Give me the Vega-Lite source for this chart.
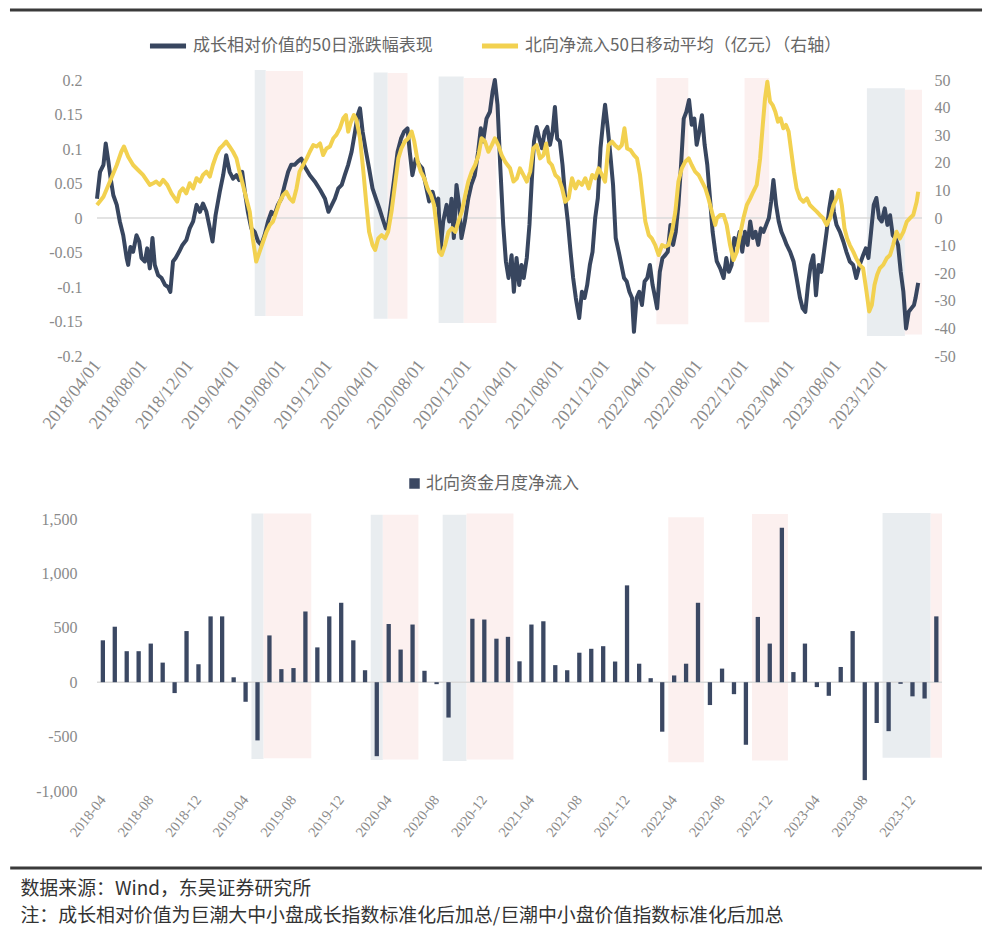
{
  "$schema": "https://vega.github.io/schema/vega-lite/v6.json",
  "background": "#ffffff",
  "padding": {"left": 8, "top": 8, "right": 20, "bottom": 5},
  "spacing": 42,
  "resolve": {"scale": {"color": "independent"}, "legend": {"color": "independent"}},
  "config": {
    "view": {"stroke": null},
    "axis": {"grid": false, "domain": false, "ticks": false, "labelFont": "Liberation Serif", "labelColor": "#8a8a8a", "labelFontSize": 16, "title": null, "labelOverlap": false},
    "legend": {"labelFont": "Noto Sans CJK SC", "labelColor": "#666666", "labelFontSize": 17, "labelLimit": 500}
  },
  "title": {
    "text": ["数据来源：Wind，东吴证券研究所", "注：成长相对价值为巨潮大中小盘成长指数标准化后加总/巨潮中小盘价值指数标准化后加总"],
    "orient": "bottom", "anchor": "start", "font": "Noto Sans CJK SC", "fontSize": 18.9, "fontWeight": "normal", "color": "#333333", "lineHeight": 27, "offset": 10, "dx": 12
  },
  "datasets": {
    "bandsTop": [
      {"start": "2019/05/21", "end": "2019/06/19", "top": 0.2145, "bottom": -0.142, "kind": "grey"},
      {"start": "2019/06/19", "end": "2019/09/25", "top": 0.213, "bottom": -0.142, "kind": "pink"},
      {"start": "2020/03/29", "end": "2020/05/05", "top": 0.211, "bottom": -0.146, "kind": "grey"},
      {"start": "2020/05/05", "end": "2020/06/26", "top": 0.21, "bottom": -0.146, "kind": "pink"},
      {"start": "2020/09/16", "end": "2020/11/21", "top": 0.205, "bottom": -0.152, "kind": "grey"},
      {"start": "2020/11/21", "end": "2021/02/15", "top": 0.203, "bottom": -0.152, "kind": "pink"},
      {"start": "2022/04/12", "end": "2022/07/05", "top": 0.203, "bottom": -0.154, "kind": "pink"},
      {"start": "2022/11/30", "end": "2023/02/03", "top": 0.203, "bottom": -0.151, "kind": "pink"},
      {"start": "2023/10/18", "end": "2024/01/26", "top": 0.188, "bottom": -0.171, "kind": "grey"},
      {"start": "2024/01/26", "end": "2024/03/11", "top": 0.186, "bottom": -0.169, "kind": "pink"}
    ],
    "bandsBottom": [
      {"start": "2019/05/01", "end": "2019/06/01", "top": 1550, "bottom": -705, "kind": "grey"},
      {"start": "2019/06/01", "end": "2019/10/01", "top": 1550, "bottom": -700, "kind": "pink"},
      {"start": "2020/03/01", "end": "2020/04/01", "top": 1540, "bottom": -715, "kind": "grey"},
      {"start": "2020/04/01", "end": "2020/07/01", "top": 1540, "bottom": -710, "kind": "pink"},
      {"start": "2020/09/01", "end": "2020/11/01", "top": 1540, "bottom": -725, "kind": "grey"},
      {"start": "2020/11/01", "end": "2021/03/01", "top": 1550, "bottom": -710, "kind": "pink"},
      {"start": "2022/04/01", "end": "2022/07/01", "top": 1515, "bottom": -735, "kind": "pink"},
      {"start": "2022/11/01", "end": "2023/02/01", "top": 1545, "bottom": -720, "kind": "pink"},
      {"start": "2023/10/01", "end": "2024/02/01", "top": 1555, "bottom": -695, "kind": "grey"},
      {"start": "2024/02/01", "end": "2024/03/01", "top": 1550, "bottom": -695, "kind": "pink"}
    ],
    "growth": [
      {"date": "2018/04/01", "value": 0.028}, {"date": "2018/04/09", "value": 0.067}, {"date": "2018/04/18", "value": 0.077}, {"date": "2018/04/24", "value": 0.108},
      {"date": "2018/05/01", "value": 0.082}, {"date": "2018/05/07", "value": 0.057}, {"date": "2018/05/14", "value": 0.033}, {"date": "2018/05/23", "value": 0.019},
      {"date": "2018/05/31", "value": -0.005}, {"date": "2018/06/09", "value": -0.025}, {"date": "2018/06/18", "value": -0.058}, {"date": "2018/06/22", "value": -0.068},
      {"date": "2018/06/28", "value": -0.042}, {"date": "2018/07/05", "value": -0.049}, {"date": "2018/07/14", "value": -0.025}, {"date": "2018/07/21", "value": -0.034},
      {"date": "2018/07/27", "value": -0.058}, {"date": "2018/08/05", "value": -0.063}, {"date": "2018/08/11", "value": -0.044}, {"date": "2018/08/18", "value": -0.073},
      {"date": "2018/08/25", "value": -0.029}, {"date": "2018/08/31", "value": -0.068}, {"date": "2018/09/09", "value": -0.083}, {"date": "2018/09/18", "value": -0.087},
      {"date": "2018/09/27", "value": -0.097}, {"date": "2018/10/05", "value": -0.1}, {"date": "2018/10/11", "value": -0.107}, {"date": "2018/10/18", "value": -0.063},
      {"date": "2018/10/25", "value": -0.058}, {"date": "2018/11/03", "value": -0.049}, {"date": "2018/11/12", "value": -0.039}, {"date": "2018/11/22", "value": -0.032},
      {"date": "2018/12/01", "value": -0.015}, {"date": "2018/12/10", "value": -0.005}, {"date": "2018/12/19", "value": 0.019}, {"date": "2018/12/28", "value": 0.009},
      {"date": "2019/01/05", "value": 0.021}, {"date": "2019/01/14", "value": 0.009}, {"date": "2019/01/23", "value": -0.015}, {"date": "2019/01/30", "value": -0.034},
      {"date": "2019/02/07", "value": 0.004}, {"date": "2019/02/18", "value": 0.038}, {"date": "2019/02/27", "value": 0.062}, {"date": "2019/03/07", "value": 0.091},
      {"date": "2019/03/16", "value": 0.067}, {"date": "2019/03/25", "value": 0.057}, {"date": "2019/04/03", "value": 0.062}, {"date": "2019/04/10", "value": 0.055},
      {"date": "2019/04/18", "value": 0.067}, {"date": "2019/04/25", "value": 0.038}, {"date": "2019/05/03", "value": 0.009}, {"date": "2019/05/12", "value": -0.015},
      {"date": "2019/05/21", "value": -0.02}, {"date": "2019/05/30", "value": -0.034}, {"date": "2019/06/07", "value": -0.039}, {"date": "2019/06/16", "value": -0.025},
      {"date": "2019/06/25", "value": -0.005}, {"date": "2019/07/04", "value": 0.009}, {"date": "2019/07/12", "value": 0.004}, {"date": "2019/07/21", "value": 0.019},
      {"date": "2019/07/30", "value": 0.028}, {"date": "2019/08/08", "value": 0.048}, {"date": "2019/08/17", "value": 0.067}, {"date": "2019/08/25", "value": 0.077},
      {"date": "2019/09/03", "value": 0.077}, {"date": "2019/09/12", "value": 0.082}, {"date": "2019/09/21", "value": 0.086}, {"date": "2019/09/30", "value": 0.074},
      {"date": "2019/10/13", "value": 0.062}, {"date": "2019/10/26", "value": 0.053}, {"date": "2019/11/09", "value": 0.041}, {"date": "2019/11/22", "value": 0.028},
      {"date": "2019/12/01", "value": 0.009}, {"date": "2019/12/10", "value": 0.019}, {"date": "2019/12/18", "value": 0.028}, {"date": "2019/12/27", "value": 0.043},
      {"date": "2020/01/05", "value": 0.048}, {"date": "2020/01/13", "value": 0.062}, {"date": "2020/01/22", "value": 0.077}, {"date": "2020/01/31", "value": 0.096},
      {"date": "2020/02/09", "value": 0.125}, {"date": "2020/02/16", "value": 0.149}, {"date": "2020/02/22", "value": 0.159}, {"date": "2020/02/29", "value": 0.125},
      {"date": "2020/03/09", "value": 0.096}, {"date": "2020/03/17", "value": 0.072}, {"date": "2020/03/26", "value": 0.043}, {"date": "2020/04/04", "value": 0.028},
      {"date": "2020/04/13", "value": 0.014}, {"date": "2020/04/21", "value": 0.0}, {"date": "2020/04/30", "value": -0.015}, {"date": "2020/05/06", "value": -0.01},
      {"date": "2020/05/13", "value": 0.019}, {"date": "2020/05/22", "value": 0.057}, {"date": "2020/05/31", "value": 0.096}, {"date": "2020/06/09", "value": 0.115},
      {"date": "2020/06/17", "value": 0.125}, {"date": "2020/06/26", "value": 0.13}, {"date": "2020/07/02", "value": 0.096}, {"date": "2020/07/09", "value": 0.062},
      {"date": "2020/07/18", "value": 0.086}, {"date": "2020/07/27", "value": 0.077}, {"date": "2020/08/04", "value": 0.072}, {"date": "2020/08/13", "value": 0.048},
      {"date": "2020/08/22", "value": 0.024}, {"date": "2020/08/31", "value": 0.038}, {"date": "2020/09/09", "value": 0.019}, {"date": "2020/09/15", "value": 0.028},
      {"date": "2020/09/21", "value": -0.048}, {"date": "2020/09/28", "value": -0.005}, {"date": "2020/10/07", "value": 0.019}, {"date": "2020/10/14", "value": -0.005},
      {"date": "2020/10/20", "value": 0.028}, {"date": "2020/10/26", "value": -0.029}, {"date": "2020/11/02", "value": 0.048}, {"date": "2020/11/09", "value": 0.019},
      {"date": "2020/11/15", "value": -0.029}, {"date": "2020/11/24", "value": -0.005}, {"date": "2020/12/03", "value": 0.028}, {"date": "2020/12/11", "value": 0.048},
      {"date": "2020/12/20", "value": 0.062}, {"date": "2020/12/29", "value": 0.096}, {"date": "2021/01/05", "value": 0.13}, {"date": "2021/01/11", "value": 0.111},
      {"date": "2021/01/20", "value": 0.144}, {"date": "2021/01/29", "value": 0.154}, {"date": "2021/02/05", "value": 0.183}, {"date": "2021/02/11", "value": 0.2},
      {"date": "2021/02/18", "value": 0.164}, {"date": "2021/02/25", "value": 0.077}, {"date": "2021/03/05", "value": -0.01}, {"date": "2021/03/12", "value": -0.063},
      {"date": "2021/03/19", "value": -0.087}, {"date": "2021/03/27", "value": -0.054}, {"date": "2021/04/02", "value": -0.107}, {"date": "2021/04/09", "value": -0.058},
      {"date": "2021/04/16", "value": -0.097}, {"date": "2021/04/22", "value": -0.068}, {"date": "2021/04/28", "value": -0.087}, {"date": "2021/05/06", "value": -0.058},
      {"date": "2021/05/13", "value": -0.01}, {"date": "2021/05/19", "value": 0.053}, {"date": "2021/05/25", "value": 0.111}, {"date": "2021/06/01", "value": 0.132},
      {"date": "2021/06/08", "value": 0.115}, {"date": "2021/06/15", "value": 0.101}, {"date": "2021/06/22", "value": 0.125}, {"date": "2021/06/29", "value": 0.132},
      {"date": "2021/07/06", "value": 0.106}, {"date": "2021/07/13", "value": 0.125}, {"date": "2021/07/19", "value": 0.161}, {"date": "2021/07/25", "value": 0.115},
      {"date": "2021/08/01", "value": 0.111}, {"date": "2021/08/08", "value": 0.077}, {"date": "2021/08/15", "value": 0.029}, {"date": "2021/08/22", "value": -0.005},
      {"date": "2021/08/29", "value": -0.048}, {"date": "2021/09/05", "value": -0.087}, {"date": "2021/09/12", "value": -0.116}, {"date": "2021/09/21", "value": -0.145},
      {"date": "2021/09/28", "value": -0.107}, {"date": "2021/10/05", "value": -0.116}, {"date": "2021/10/12", "value": -0.097}, {"date": "2021/10/19", "value": -0.068},
      {"date": "2021/10/26", "value": -0.049}, {"date": "2021/11/02", "value": 0.0}, {"date": "2021/11/09", "value": 0.029}, {"date": "2021/11/16", "value": 0.101},
      {"date": "2021/11/23", "value": 0.14}, {"date": "2021/11/28", "value": 0.164}, {"date": "2021/12/05", "value": 0.13}, {"date": "2021/12/12", "value": 0.091},
      {"date": "2021/12/19", "value": 0.048}, {"date": "2021/12/26", "value": -0.029}, {"date": "2022/01/03", "value": -0.049}, {"date": "2022/01/10", "value": -0.068},
      {"date": "2022/01/17", "value": -0.087}, {"date": "2022/01/24", "value": -0.092}, {"date": "2022/01/31", "value": -0.107}, {"date": "2022/02/07", "value": -0.116},
      {"date": "2022/02/12", "value": -0.165}, {"date": "2022/02/19", "value": -0.116}, {"date": "2022/02/26", "value": -0.107}, {"date": "2022/03/05", "value": -0.126},
      {"date": "2022/03/12", "value": -0.092}, {"date": "2022/03/19", "value": -0.087}, {"date": "2022/03/26", "value": -0.068}, {"date": "2022/04/02", "value": -0.097},
      {"date": "2022/04/09", "value": -0.116}, {"date": "2022/04/14", "value": -0.131}, {"date": "2022/04/21", "value": -0.078}, {"date": "2022/04/28", "value": -0.058},
      {"date": "2022/05/05", "value": -0.054}, {"date": "2022/05/12", "value": -0.049}, {"date": "2022/05/19", "value": -0.01}, {"date": "2022/05/26", "value": -0.039},
      {"date": "2022/06/02", "value": -0.02}, {"date": "2022/06/09", "value": 0.019}, {"date": "2022/06/16", "value": 0.077}, {"date": "2022/06/23", "value": 0.144},
      {"date": "2022/06/30", "value": 0.154}, {"date": "2022/07/07", "value": 0.171}, {"date": "2022/07/14", "value": 0.135}, {"date": "2022/07/21", "value": 0.144},
      {"date": "2022/07/27", "value": 0.106}, {"date": "2022/08/03", "value": 0.125}, {"date": "2022/08/10", "value": 0.149}, {"date": "2022/08/17", "value": 0.106},
      {"date": "2022/08/24", "value": 0.077}, {"date": "2022/08/31", "value": 0.029}, {"date": "2022/09/07", "value": -0.02}, {"date": "2022/09/14", "value": -0.049},
      {"date": "2022/09/18", "value": -0.063}, {"date": "2022/09/27", "value": -0.073}, {"date": "2022/10/06", "value": -0.087}, {"date": "2022/10/13", "value": -0.058},
      {"date": "2022/10/20", "value": -0.078}, {"date": "2022/10/27", "value": -0.068}, {"date": "2022/11/03", "value": -0.029}, {"date": "2022/11/10", "value": -0.039},
      {"date": "2022/11/17", "value": -0.02}, {"date": "2022/11/24", "value": -0.049}, {"date": "2022/12/01", "value": -0.02}, {"date": "2022/12/08", "value": -0.039},
      {"date": "2022/12/15", "value": -0.005}, {"date": "2022/12/22", "value": -0.029}, {"date": "2022/12/29", "value": -0.02}, {"date": "2023/01/05", "value": -0.039},
      {"date": "2023/01/12", "value": -0.015}, {"date": "2023/01/19", "value": -0.02}, {"date": "2023/01/26", "value": -0.01}, {"date": "2023/02/02", "value": 0.0},
      {"date": "2023/02/08", "value": 0.024}, {"date": "2023/02/14", "value": 0.055}, {"date": "2023/02/21", "value": 0.019}, {"date": "2023/02/28", "value": -0.005},
      {"date": "2023/03/07", "value": -0.02}, {"date": "2023/03/14", "value": -0.029}, {"date": "2023/03/21", "value": -0.039}, {"date": "2023/03/30", "value": -0.049},
      {"date": "2023/04/08", "value": -0.063}, {"date": "2023/04/16", "value": -0.087}, {"date": "2023/04/25", "value": -0.116}, {"date": "2023/05/02", "value": -0.131},
      {"date": "2023/05/09", "value": -0.136}, {"date": "2023/05/16", "value": -0.097}, {"date": "2023/05/23", "value": -0.068}, {"date": "2023/05/30", "value": -0.054},
      {"date": "2023/06/06", "value": -0.112}, {"date": "2023/06/13", "value": -0.068}, {"date": "2023/06/20", "value": -0.078}, {"date": "2023/06/27", "value": -0.049},
      {"date": "2023/07/04", "value": -0.02}, {"date": "2023/07/11", "value": 0.014}, {"date": "2023/07/18", "value": 0.038}, {"date": "2023/07/23", "value": 0.009},
      {"date": "2023/07/30", "value": -0.01}, {"date": "2023/08/08", "value": -0.02}, {"date": "2023/08/17", "value": -0.034}, {"date": "2023/08/25", "value": -0.049},
      {"date": "2023/09/03", "value": -0.063}, {"date": "2023/09/12", "value": -0.068}, {"date": "2023/09/20", "value": -0.087}, {"date": "2023/09/29", "value": -0.068},
      {"date": "2023/10/08", "value": -0.054}, {"date": "2023/10/15", "value": -0.044}, {"date": "2023/10/22", "value": -0.058}, {"date": "2023/10/29", "value": -0.02},
      {"date": "2023/11/05", "value": 0.019}, {"date": "2023/11/12", "value": 0.029}, {"date": "2023/11/19", "value": 0.0}, {"date": "2023/11/26", "value": -0.005},
      {"date": "2023/12/04", "value": 0.014}, {"date": "2023/12/11", "value": -0.01}, {"date": "2023/12/18", "value": 0.004}, {"date": "2023/12/25", "value": -0.025},
      {"date": "2024/01/01", "value": -0.029}, {"date": "2024/01/08", "value": -0.039}, {"date": "2024/01/15", "value": -0.078}, {"date": "2024/01/22", "value": -0.107},
      {"date": "2024/01/29", "value": -0.16}, {"date": "2024/02/05", "value": -0.136}, {"date": "2024/02/12", "value": -0.131}, {"date": "2024/02/19", "value": -0.126},
      {"date": "2024/02/23", "value": -0.116}, {"date": "2024/03/01", "value": -0.094}
    ],
    "flow": [
      {"date": "2018/04/01", "value": 4.7}, {"date": "2018/04/18", "value": 7.7}, {"date": "2018/05/05", "value": 13.2}, {"date": "2018/05/23", "value": 19.2},
      {"date": "2018/06/04", "value": 24}, {"date": "2018/06/11", "value": 25.9}, {"date": "2018/06/22", "value": 22.2}, {"date": "2018/07/05", "value": 19.2},
      {"date": "2018/07/18", "value": 17.4}, {"date": "2018/07/31", "value": 15.6}, {"date": "2018/08/09", "value": 13.8}, {"date": "2018/08/18", "value": 12},
      {"date": "2018/08/27", "value": 12.6}, {"date": "2018/09/04", "value": 13.2}, {"date": "2018/09/13", "value": 12}, {"date": "2018/09/22", "value": 13.8},
      {"date": "2018/10/03", "value": 12}, {"date": "2018/10/14", "value": 8.9}, {"date": "2018/10/23", "value": 7.1}, {"date": "2018/10/29", "value": 5.9},
      {"date": "2018/11/05", "value": 9.5}, {"date": "2018/11/13", "value": 10.7}, {"date": "2018/11/22", "value": 8.9}, {"date": "2018/12/01", "value": 12.6},
      {"date": "2018/12/10", "value": 10.7}, {"date": "2018/12/19", "value": 14.4}, {"date": "2018/12/28", "value": 13.2}, {"date": "2019/01/05", "value": 15.6},
      {"date": "2019/01/14", "value": 16.8}, {"date": "2019/01/23", "value": 15}, {"date": "2019/01/31", "value": 19.2}, {"date": "2019/02/09", "value": 22.8},
      {"date": "2019/02/18", "value": 25.2}, {"date": "2019/02/27", "value": 26.4}, {"date": "2019/03/07", "value": 27.7}, {"date": "2019/03/16", "value": 25.9},
      {"date": "2019/03/25", "value": 24}, {"date": "2019/04/03", "value": 21.6}, {"date": "2019/04/11", "value": 16.8}, {"date": "2019/04/20", "value": 12},
      {"date": "2019/04/29", "value": 7.1}, {"date": "2019/05/08", "value": 2.3}, {"date": "2019/05/16", "value": -7.4}, {"date": "2019/05/25", "value": -15.8},
      {"date": "2019/06/03", "value": -12.2}, {"date": "2019/06/12", "value": -8.6}, {"date": "2019/06/21", "value": -5}, {"date": "2019/06/30", "value": -2.5},
      {"date": "2019/07/08", "value": -1.3}, {"date": "2019/07/17", "value": 2.3}, {"date": "2019/07/26", "value": 5.9}, {"date": "2019/08/04", "value": 8.3},
      {"date": "2019/08/12", "value": 9.5}, {"date": "2019/08/21", "value": 7.1}, {"date": "2019/08/30", "value": 5.9}, {"date": "2019/09/08", "value": 10.7},
      {"date": "2019/09/16", "value": 16.8}, {"date": "2019/10/05", "value": 21.6}, {"date": "2019/10/13", "value": 24}, {"date": "2019/10/22", "value": 26.4},
      {"date": "2019/10/31", "value": 25.9}, {"date": "2019/11/09", "value": 27}, {"date": "2019/11/17", "value": 22.8}, {"date": "2019/11/26", "value": 25.2},
      {"date": "2019/12/05", "value": 25.9}, {"date": "2019/12/14", "value": 28.9}, {"date": "2019/12/22", "value": 30.1}, {"date": "2019/12/31", "value": 32.5},
      {"date": "2020/01/09", "value": 36.1}, {"date": "2020/01/16", "value": 37.3}, {"date": "2020/01/22", "value": 31.3}, {"date": "2020/01/28", "value": 34.3},
      {"date": "2020/02/06", "value": 37.3}, {"date": "2020/02/13", "value": 35.5}, {"date": "2020/02/22", "value": 28.9}, {"date": "2020/03/02", "value": 16.8},
      {"date": "2020/03/10", "value": 4.7}, {"date": "2020/03/17", "value": -5}, {"date": "2020/03/26", "value": -9.8}, {"date": "2020/04/02", "value": -11.6},
      {"date": "2020/04/10", "value": -7.4}, {"date": "2020/04/19", "value": -6.2}, {"date": "2020/04/28", "value": -7.4}, {"date": "2020/05/06", "value": -5},
      {"date": "2020/05/15", "value": 2.3}, {"date": "2020/05/24", "value": 12}, {"date": "2020/06/02", "value": 21.6}, {"date": "2020/06/10", "value": 25.2},
      {"date": "2020/06/19", "value": 27.7}, {"date": "2020/06/28", "value": 28.9}, {"date": "2020/07/07", "value": 31.3}, {"date": "2020/07/14", "value": 27.7},
      {"date": "2020/07/23", "value": 20.4}, {"date": "2020/07/31", "value": 16.8}, {"date": "2020/08/09", "value": 14.4}, {"date": "2020/08/18", "value": 10.7},
      {"date": "2020/08/27", "value": 8.3}, {"date": "2020/09/04", "value": 4.7}, {"date": "2020/09/10", "value": -2.5}, {"date": "2020/09/17", "value": -12.2},
      {"date": "2020/09/24", "value": -13.4}, {"date": "2020/10/03", "value": -9.8}, {"date": "2020/10/12", "value": -5}, {"date": "2020/10/21", "value": -3.7},
      {"date": "2020/10/30", "value": -5}, {"date": "2020/11/07", "value": -1.3}, {"date": "2020/11/16", "value": 2.3}, {"date": "2020/11/25", "value": 8.3},
      {"date": "2020/12/03", "value": 13.2}, {"date": "2020/12/12", "value": 16.8}, {"date": "2020/12/21", "value": 19.2}, {"date": "2020/12/30", "value": 22.8},
      {"date": "2021/01/07", "value": 28.9}, {"date": "2021/01/16", "value": 27.7}, {"date": "2021/01/25", "value": 24}, {"date": "2021/02/03", "value": 26.4},
      {"date": "2021/02/11", "value": 28.9}, {"date": "2021/02/20", "value": 26.4}, {"date": "2021/03/01", "value": 22.8}, {"date": "2021/03/10", "value": 20.4},
      {"date": "2021/03/23", "value": 18}, {"date": "2021/04/01", "value": 13.2}, {"date": "2021/04/10", "value": 14.4}, {"date": "2021/04/18", "value": 18},
      {"date": "2021/04/27", "value": 15.6}, {"date": "2021/05/06", "value": 13.2}, {"date": "2021/05/15", "value": 16.8}, {"date": "2021/05/23", "value": 25.2},
      {"date": "2021/06/01", "value": 26.4}, {"date": "2021/06/10", "value": 21.6}, {"date": "2021/06/19", "value": 22.8}, {"date": "2021/06/26", "value": 27},
      {"date": "2021/07/03", "value": 20.4}, {"date": "2021/07/11", "value": 19.2}, {"date": "2021/07/20", "value": 15.6}, {"date": "2021/07/29", "value": 14.4},
      {"date": "2021/08/07", "value": 10.7}, {"date": "2021/08/15", "value": 5.9}, {"date": "2021/08/24", "value": 7.1}, {"date": "2021/09/02", "value": 14.4},
      {"date": "2021/09/11", "value": 10.7}, {"date": "2021/09/19", "value": 13.2}, {"date": "2021/09/28", "value": 12}, {"date": "2021/10/07", "value": 14.4},
      {"date": "2021/10/16", "value": 10.7}, {"date": "2021/10/25", "value": 15.6}, {"date": "2021/11/02", "value": 14.4}, {"date": "2021/11/11", "value": 18},
      {"date": "2021/11/20", "value": 15.6}, {"date": "2021/11/28", "value": 13.2}, {"date": "2021/12/07", "value": 26.4}, {"date": "2021/12/16", "value": 27.7},
      {"date": "2021/12/24", "value": 26.4}, {"date": "2022/01/03", "value": 25.2}, {"date": "2022/01/11", "value": 26.4}, {"date": "2022/01/18", "value": 32.5},
      {"date": "2022/01/25", "value": 25.2}, {"date": "2022/02/03", "value": 24.6}, {"date": "2022/02/12", "value": 22.8}, {"date": "2022/02/20", "value": 21.6},
      {"date": "2022/02/28", "value": 15.6}, {"date": "2022/03/07", "value": 7.1}, {"date": "2022/03/14", "value": -1.3}, {"date": "2022/03/23", "value": -6.2},
      {"date": "2022/03/31", "value": -7.4}, {"date": "2022/04/09", "value": -9.8}, {"date": "2022/04/18", "value": -13.4}, {"date": "2022/04/27", "value": -9.8},
      {"date": "2022/05/05", "value": -10.4}, {"date": "2022/05/14", "value": -9.8}, {"date": "2022/05/23", "value": -5}, {"date": "2022/06/01", "value": 2.3},
      {"date": "2022/06/09", "value": 13.2}, {"date": "2022/06/18", "value": 18}, {"date": "2022/06/27", "value": 20.4}, {"date": "2022/07/06", "value": 21.6},
      {"date": "2022/07/14", "value": 19.2}, {"date": "2022/07/23", "value": 16.8}, {"date": "2022/08/01", "value": 15.6}, {"date": "2022/08/10", "value": 13.2},
      {"date": "2022/08/19", "value": 10.7}, {"date": "2022/08/27", "value": 7.1}, {"date": "2022/09/05", "value": 2.3}, {"date": "2022/09/14", "value": -2.5},
      {"date": "2022/09/18", "value": -0.1}, {"date": "2022/09/27", "value": 1.1}, {"date": "2022/10/06", "value": 1.1}, {"date": "2022/10/14", "value": -2.5},
      {"date": "2022/10/23", "value": -9.8}, {"date": "2022/11/01", "value": -15.2}, {"date": "2022/11/10", "value": -12.2}, {"date": "2022/11/18", "value": -6.2},
      {"date": "2022/11/27", "value": -0.1}, {"date": "2022/12/06", "value": 4.7}, {"date": "2022/12/15", "value": 7.1}, {"date": "2022/12/23", "value": 9.5},
      {"date": "2023/01/01", "value": 12}, {"date": "2023/01/10", "value": 21.6}, {"date": "2023/01/17", "value": 33.7}, {"date": "2023/01/23", "value": 43.4},
      {"date": "2023/01/29", "value": 49.4}, {"date": "2023/02/05", "value": 42.2}, {"date": "2023/02/12", "value": 40.9}, {"date": "2023/02/19", "value": 38.5},
      {"date": "2023/02/26", "value": 34.9}, {"date": "2023/03/05", "value": 36.1}, {"date": "2023/03/12", "value": 32.5}, {"date": "2023/03/19", "value": 33.7},
      {"date": "2023/03/26", "value": 31.3}, {"date": "2023/04/02", "value": 24}, {"date": "2023/04/09", "value": 16.8}, {"date": "2023/04/16", "value": 10.7},
      {"date": "2023/04/25", "value": 7.1}, {"date": "2023/05/04", "value": 5.9}, {"date": "2023/05/13", "value": 7.1}, {"date": "2023/05/21", "value": 4.7},
      {"date": "2023/05/30", "value": 3.5}, {"date": "2023/06/08", "value": 2.3}, {"date": "2023/06/16", "value": 1.1}, {"date": "2023/06/25", "value": -0.1},
      {"date": "2023/07/04", "value": -2.5}, {"date": "2023/07/13", "value": -0.1}, {"date": "2023/07/22", "value": 4.7}, {"date": "2023/07/30", "value": 7.1},
      {"date": "2023/08/06", "value": 10.1}, {"date": "2023/08/13", "value": 4.7}, {"date": "2023/08/20", "value": -3.7}, {"date": "2023/08/27", "value": -7.4},
      {"date": "2023/09/03", "value": -9.8}, {"date": "2023/09/12", "value": -12.2}, {"date": "2023/09/20", "value": -14.6}, {"date": "2023/09/29", "value": -17},
      {"date": "2023/10/08", "value": -18.2}, {"date": "2023/10/17", "value": -26.7}, {"date": "2023/10/24", "value": -33.9}, {"date": "2023/10/31", "value": -31.5},
      {"date": "2023/11/07", "value": -24.3}, {"date": "2023/11/14", "value": -20.6}, {"date": "2023/11/21", "value": -18.2}, {"date": "2023/11/30", "value": -17},
      {"date": "2023/12/09", "value": -14.6}, {"date": "2023/12/18", "value": -13.4}, {"date": "2023/12/26", "value": -9.8}, {"date": "2024/01/04", "value": -5},
      {"date": "2024/01/13", "value": -7.4}, {"date": "2024/01/22", "value": -5}, {"date": "2024/01/31", "value": -1.3}, {"date": "2024/02/08", "value": -0.1},
      {"date": "2024/02/17", "value": 1.1}, {"date": "2024/02/26", "value": 5.9}, {"date": "2024/03/01", "value": 9.5}
    ],
    "monthly": [
      {"month": "2018/04/01", "value": 385}, {"month": "2018/05/01", "value": 510}, {"month": "2018/06/01", "value": 285}, {"month": "2018/07/01", "value": 285},
      {"month": "2018/08/01", "value": 355}, {"month": "2018/09/01", "value": 180}, {"month": "2018/10/01", "value": -100}, {"month": "2018/11/01", "value": 470},
      {"month": "2018/12/01", "value": 165}, {"month": "2019/01/01", "value": 605}, {"month": "2019/02/01", "value": 605}, {"month": "2019/03/01", "value": 45},
      {"month": "2019/04/01", "value": -180}, {"month": "2019/05/01", "value": -535}, {"month": "2019/06/01", "value": 430}, {"month": "2019/07/01", "value": 120},
      {"month": "2019/08/01", "value": 130}, {"month": "2019/09/01", "value": 650}, {"month": "2019/10/01", "value": 320}, {"month": "2019/11/01", "value": 605},
      {"month": "2019/12/01", "value": 730}, {"month": "2020/01/01", "value": 385}, {"month": "2020/02/01", "value": 110}, {"month": "2020/03/01", "value": -680},
      {"month": "2020/04/01", "value": 535}, {"month": "2020/05/01", "value": 300}, {"month": "2020/06/01", "value": 530}, {"month": "2020/07/01", "value": 105},
      {"month": "2020/08/01", "value": -18}, {"month": "2020/09/01", "value": -325}, {"month": "2020/11/01", "value": 583}, {"month": "2020/12/01", "value": 576},
      {"month": "2021/01/01", "value": 400}, {"month": "2021/02/01", "value": 417}, {"month": "2021/03/01", "value": 192}, {"month": "2021/04/01", "value": 530},
      {"month": "2021/05/01", "value": 560}, {"month": "2021/06/01", "value": 157}, {"month": "2021/07/01", "value": 110}, {"month": "2021/08/01", "value": 271},
      {"month": "2021/09/01", "value": 307}, {"month": "2021/10/01", "value": 331}, {"month": "2021/11/01", "value": 190}, {"month": "2021/12/01", "value": 890},
      {"month": "2022/01/01", "value": 170}, {"month": "2022/02/01", "value": 37}, {"month": "2022/03/01", "value": -455}, {"month": "2022/04/01", "value": 62},
      {"month": "2022/05/01", "value": 170}, {"month": "2022/06/01", "value": 730}, {"month": "2022/07/01", "value": -210}, {"month": "2022/08/01", "value": 125},
      {"month": "2022/09/01", "value": -110}, {"month": "2022/10/01", "value": -575}, {"month": "2022/11/01", "value": 600}, {"month": "2022/12/01", "value": 355},
      {"month": "2023/01/01", "value": 1420}, {"month": "2023/02/01", "value": 93}, {"month": "2023/03/01", "value": 355}, {"month": "2023/04/01", "value": -45},
      {"month": "2023/05/01", "value": -125}, {"month": "2023/06/01", "value": 140}, {"month": "2023/07/01", "value": 470}, {"month": "2023/08/01", "value": -900},
      {"month": "2023/09/01", "value": -375}, {"month": "2023/10/01", "value": -450}, {"month": "2023/11/01", "value": -15}, {"month": "2023/12/01", "value": -130},
      {"month": "2024/01/01", "value": -150}, {"month": "2024/02/01", "value": 605}
    ]
  },
  "vconcat": [
    {
      "width": 825,
      "height": 276,
      "layer": [
        {
          "layer": [
            {
              "data": {"name": "bandsTop"},
              "mark": {"type": "rect"},
              "encoding": {
                "x": {"field": "start", "type": "temporal", "title": null,
                  "scale": {"domain": [{"year": 2018, "month": 4, "date": 1}, {"year": 2024, "month": 3, "date": 11}]},
                  "axis": {"format": "%Y/%m/%d", "labelAngle": 308, "labelFontSize": 18, "labelPadding": 6, "tickCount": 40,
                    "values": [{"year": 2018, "month": 4, "date": 1}, {"year": 2018, "month": 8, "date": 1}, {"year": 2018, "month": 12, "date": 1},
                               {"year": 2019, "month": 4, "date": 1}, {"year": 2019, "month": 8, "date": 1}, {"year": 2019, "month": 12, "date": 1},
                               {"year": 2020, "month": 4, "date": 1}, {"year": 2020, "month": 8, "date": 1}, {"year": 2020, "month": 12, "date": 1},
                               {"year": 2021, "month": 4, "date": 1}, {"year": 2021, "month": 8, "date": 1}, {"year": 2021, "month": 12, "date": 1},
                               {"year": 2022, "month": 4, "date": 1}, {"year": 2022, "month": 8, "date": 1}, {"year": 2022, "month": 12, "date": 1},
                               {"year": 2023, "month": 4, "date": 1}, {"year": 2023, "month": 8, "date": 1}, {"year": 2023, "month": 12, "date": 1}]}},
                "x2": {"field": "end"},
                "y": {"field": "top", "type": "quantitative", "title": null,
                  "scale": {"domain": [-0.2, 0.2], "nice": false, "zero": false},
                  "axis": {"values": [-0.2, -0.15, -0.1, -0.05, 0, 0.05, 0.1, 0.15, 0.2], "tickCount": 20, "labelPadding": 15, "labelExpr": "'' + datum.value"}},
                "y2": {"field": "bottom"},
                "fill": {"field": "kind", "type": "nominal", "legend": null, "scale": {"domain": ["grey", "pink"], "range": ["#e9edf0", "#fcf0ef"]}}
              }
            },
            {
              "data": {"values": [{}]},
              "mark": {"type": "rule", "color": "#dadada", "strokeWidth": 1.5},
              "encoding": {"y": {"datum": 0}}
            },
            {
              "data": {"values": [{}]},
              "mark": {"type": "rule", "color": "#3a3a3a", "strokeWidth": 3},
              "encoding": {
                "x": {"datum": {"year": 2017, "month": 8, "date": 15}},
                "x2": {"datum": {"year": 2024, "month": 8, "date": 16}},
                "y": {"datum": 0.3015}
              }
            },
            {
              "data": {"name": "growth"},
              "mark": {"type": "line", "strokeWidth": 4, "strokeJoin": "round"},
              "encoding": {
                "x": {"field": "date", "type": "temporal", "title": null},
                "y": {"field": "value", "type": "quantitative", "title": null},
                "color": {"datum": "成长相对价值的50日涨跌幅表现",
                  "scale": {"domain": ["成长相对价值的50日涨跌幅表现", "北向净流入50日移动平均（亿元）（右轴）"], "range": ["#38465f", "#f2d150"]},
                  "legend": {"orient": "none", "legendX": 50, "legendY": -55, "direction": "horizontal", "title": null, "symbolType": "stroke", "symbolStrokeWidth": 5, "symbolSize": 1300, "columnPadding": 38, "labelOffset": 4}}
              }
            }
          ]
        },
        {
          "data": {"name": "flow"},
          "mark": {"type": "line", "strokeWidth": 4, "strokeJoin": "round"},
          "encoding": {
            "x": {"field": "date", "type": "temporal", "title": null},
            "y": {"field": "value", "type": "quantitative", "title": null,
              "scale": {"domain": [-50, 50], "nice": false, "zero": false},
              "axis": {"orient": "right", "values": [-50, -40, -30, -20, -10, 0, 10, 20, 30, 40, 50], "tickCount": 20, "labelPadding": 12, "labelExpr": "'' + datum.value"}},
            "color": {"datum": "北向净流入50日移动平均（亿元）（右轴）"}
          }
        }
      ],
      "resolve": {"scale": {"y": "independent"}}
    },
    {
      "width": 845,
      "height": 272,
      "layer": [
        {
          "data": {"name": "bandsBottom"},
          "mark": {"type": "rect"},
          "encoding": {
            "x": {"field": "start", "type": "temporal", "title": null,
              "scale": {"domain": [{"year": 2018, "month": 4, "date": 1}, {"year": 2024, "month": 3, "date": 1}]},
              "axis": {"format": "%Y-%m", "labelAngle": 308, "labelFontSize": 14.5, "labelPadding": 6, "tickCount": 40,
                "values": [{"year": 2018, "month": 4, "date": 16}, {"year": 2018, "month": 8, "date": 16}, {"year": 2018, "month": 12, "date": 16},
                           {"year": 2019, "month": 4, "date": 16}, {"year": 2019, "month": 8, "date": 16}, {"year": 2019, "month": 12, "date": 16},
                           {"year": 2020, "month": 4, "date": 16}, {"year": 2020, "month": 8, "date": 16}, {"year": 2020, "month": 12, "date": 16},
                           {"year": 2021, "month": 4, "date": 16}, {"year": 2021, "month": 8, "date": 16}, {"year": 2021, "month": 12, "date": 16},
                           {"year": 2022, "month": 4, "date": 16}, {"year": 2022, "month": 8, "date": 16}, {"year": 2022, "month": 12, "date": 16},
                           {"year": 2023, "month": 4, "date": 16}, {"year": 2023, "month": 8, "date": 16}, {"year": 2023, "month": 12, "date": 16}]}},
            "x2": {"field": "end"},
            "y": {"field": "top", "type": "quantitative", "title": null,
              "scale": {"domain": [-1000, 1500], "nice": false, "zero": false},
              "axis": {"values": [-1000, -500, 0, 500, 1000, 1500], "tickCount": 20, "labelPadding": 20, "labelExpr": "replace(format(datum.value, ','), '\u2212', '-')"}},
            "y2": {"field": "bottom"},
            "fill": {"field": "kind", "type": "nominal", "legend": null, "scale": {"domain": ["grey", "pink"], "range": ["#e9edf0", "#fcf0ef"]}}
          }
        },
        {
          "data": {"values": [{}]},
          "mark": {"type": "rule", "color": "#dadada", "strokeWidth": 1.5},
          "encoding": {"y": {"datum": 0}}
        },
        {
          "data": {"values": [{}]},
          "mark": {"type": "rule", "color": "#3a3a3a", "strokeWidth": 3},
          "encoding": {
            "x": {"datum": {"year": 2017, "month": 8, "date": 22}},
            "x2": {"datum": {"year": 2024, "month": 6, "date": 11}},
            "y": {"datum": -1708}
          }
        },
        {
          "data": {"name": "monthly"},
          "mark": {"type": "bar", "width": 4.3},
          "encoding": {
            "x": {"field": "month", "type": "temporal", "timeUnit": "yearmonth", "bandPosition": 0.5, "title": null},
            "y": {"field": "value", "type": "quantitative", "title": null},
            "color": {"datum": "北向资金月度净流入", "scale": {"domain": ["北向资金月度净流入"], "range": ["#3b4863"]},
              "legend": {"orient": "none", "legendX": 309, "legendY": -44, "title": null, "symbolType": "square", "symbolSize": 110, "labelOffset": 3}}
          }
        }
      ]
    }
  ]
}
